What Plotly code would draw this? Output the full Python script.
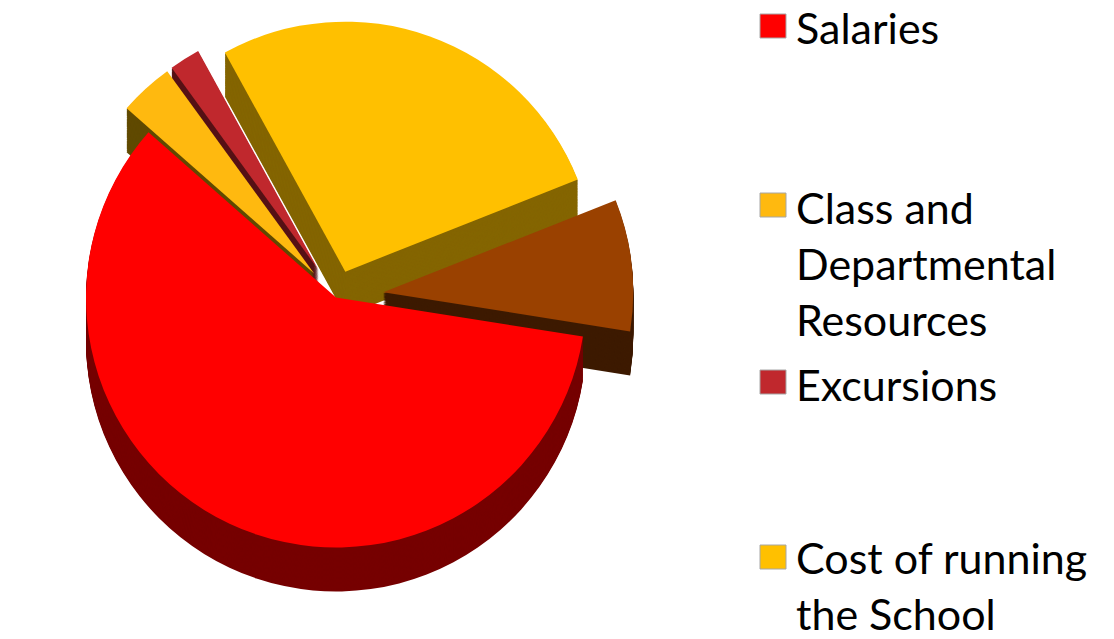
import plotly.graph_objects as go

# ---- data -------------------------------------------------------------
categories = ["Salaries", "Class and Departmental Resources", "Excursions",
              "Cost of running the School", "Other"]
values = [59, 3.5, 2, 27, 8.5]
legend_labels = ["Salaries", "Class and<br>Departmental<br>Resources",
                 "Excursions", "Cost of running<br>the School"]

# ---- style ------------------------------------------------------------
top_colors = ["#FF0000", "#FFB90F", "#C0282D", "#FFC000", "#9A4100"]
side_colors = ["#760000", "#604A00", "#561216", "#846500", "#3D1A00"]
pulls = [0, 0.13, 0.13, 0.11, 0.19]

W, H = 1114, 639
depth_px = 44
n_layers = 40
d = depth_px / H
h = 1 - d
x_dom = [36 / W, 636 / W]

fig = go.Figure()
# darker stacked layers give the pie its thickness
for k in range(n_layers, 0, -1):
    off = d * k / n_layers
    y0 = max(0.0, d - off)
    fig.add_trace(go.Pie(
        labels=categories, values=values, sort=False, direction="clockwise",
        rotation=99, pull=pulls,
        marker=dict(colors=side_colors, line=dict(width=0)),
        textinfo="none", hoverinfo="skip", showlegend=False,
        domain=dict(x=x_dom, y=[y0, y0 + h]),
    ))
# top face
fig.add_trace(go.Pie(
    labels=categories, values=values, sort=False, direction="clockwise",
    rotation=99, pull=pulls,
    marker=dict(colors=top_colors, line=dict(width=0)),
    textinfo="none", hoverinfo="label+percent", showlegend=False,
    domain=dict(x=x_dom, y=[d, 1]),
))

# ---- legend (drawn as real text + swatches) ---------------------------
font_family = "Lato, 'Open Sans', sans-serif"
swatch_tops = [14, 193, 370, 545]
text_tops = [0, 180, 357, 530]
for lab, col, st, tt in zip(legend_labels, top_colors[:4], swatch_tops, text_tops):
    fig.add_shape(type="rect", xref="paper", yref="paper",
                  x0=760 / W, x1=786 / W, y0=1 - st / H, y1=1 - (st + 24) / H,
                  fillcolor=col, line=dict(color="#A6A6A6", width=1))
    fig.add_annotation(text=lab, xref="paper", yref="paper",
                       x=794 / W, y=1 - tt / H, xanchor="left", yanchor="top",
                       align="left", showarrow=False,
                       font=dict(family=font_family, size=43, color="#000000"))

fig.update_layout(
    width=W, height=H,
    margin=dict(l=0, r=0, t=0, b=0),
    paper_bgcolor="white", plot_bgcolor="white",
    showlegend=False,
)

fig.write_html("out.html", config={"displayModeBar": False},
               post_script="document.body.style.margin='0';document.body.style.overflow='hidden';")
